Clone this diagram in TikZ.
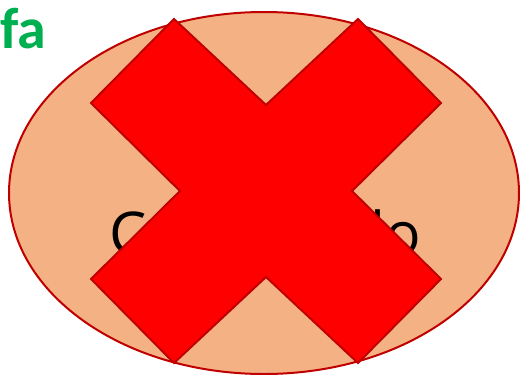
\documentclass[tikz,border=0pt]{standalone}
\usepackage{fontspec}
\setmainfont{Open Sans}
\newfontfamily\tagfont{Carlito}
\usetikzlibrary{shapes.geometric}
\definecolor{peach}{HTML}{F4B183}
\definecolor{darkred}{HTML}{C00000}
\definecolor{offgreen}{HTML}{00B050}

\begin{document}
\begin{tikzpicture}[
    x=1pt, y=-1pt,
    blob/.style={ellipse, draw=darkred, line width=2pt, fill=peach,
                 minimum width=510pt, minimum height=362pt, inner sep=0pt},
    word/.style={anchor=base west, text=black, inner sep=0pt,
                 font=\fontsize{59}{61}\selectfont},
    tag/.style={anchor=base west, text=offgreen, inner sep=0pt,
                font=\tagfont\bfseries\fontsize{58}{60}\selectfont},
    cross/.style={draw=darkred, line width=2pt, fill=red, line join=miter}
]
\useasboundingbox (0,0) rectangle (520,375);
\node[tag] (fa) at (0,48) {fa};
\node[blob] (cell) at (264,193) {};
\node[word] (name) at (109,254) {Cere\hspace{66pt}belo};
% big cross over the cell
\filldraw[cross] (174,19) -- (266,105) -- (358,19) -- (441,103) -- (352,191)
  -- (441,279) -- (358,363) -- (266,277) -- (174,363) -- (91,279)
  -- (180,191) -- (91,103) -- cycle;
\end{tikzpicture}
\end{document}
